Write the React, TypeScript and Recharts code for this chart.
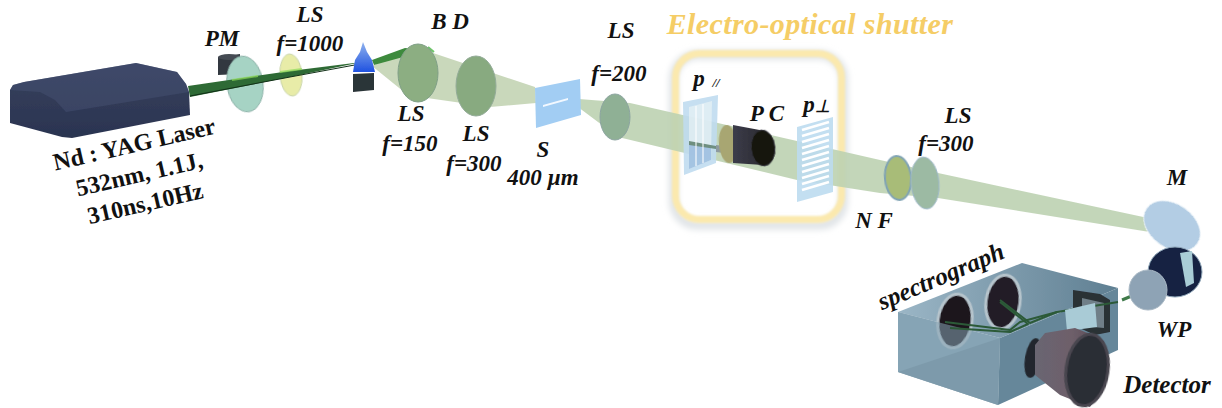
import { ScatterChart, Scatter, XAxis, YAxis } from "recharts";

type Pt = { x: number; y: number };
const pts = (...v: number[]): Pt[] => v.reduce<Pt[]>((a, n, i) => (i % 2 ? [...a, { x: v[i - 1], y: n }] : a), []);

// outlines in image pixels
const laserBody = pts(10, 90, 13, 85, 24, 82, 136, 63, 177, 72, 186, 84, 189, 92, 190, 115, 72, 138, 62, 137, 10, 123);
const laserTop = pts(10, 90, 13, 85, 24, 82, 136, 63, 177, 72, 186, 84, 189, 92, 66, 112, 55, 100, 40, 92);
const pmBody = pts(218, 57, 240, 54, 240, 74, 218, 75);
const flame = pts(363, 42, 367, 52, 372, 60, 375, 72, 353, 72, 355, 60, 360, 52);
const flameBase = pts(353, 74, 374, 73, 374, 90, 353, 92);
const laserBeam = pts(188, 86, 290, 71, 362, 62, 290, 77, 190, 97);
const laserBeamEdge = pts(190, 96, 290, 77, 360, 64);
const focusBeam = pts(372, 60, 405, 48, 414, 49, 414, 54, 374, 65);
const dumpEdge = pts(428, 47, 434, 52);
const expandBeam = pts(372, 66, 415, 48, 433, 53, 535, 87, 536, 103, 490, 107, 427, 98, 414, 100);
const slitPlate = pts(535, 88, 580, 79, 581, 115, 536, 128);
const slitGap = pts(543, 105, 568, 98, 568, 100, 543, 107);
const mainBeam = pts(566, 98, 630, 103, 880, 160, 938, 173, 1148, 218, 1156, 233, 938, 198, 880, 193, 797, 180, 618, 137);
const polFrameA = pts(683, 102, 718, 95, 716, 163, 684, 175);
const polInnerA = pts(689, 107, 712, 101, 711, 160, 689, 169);
const polLowerA = pts(689, 142, 711, 146, 711, 160, 689, 169);
const polCore = pts(689, 141, 716, 146, 716, 149, 689, 145);
const polFrameB = pts(797, 127, 833, 117, 833, 192, 797, 202);
const cellBody = pts(733, 125, 765, 131, 763, 165, 733, 163);
const cellStem = pts(716, 145, 724, 146, 724, 153, 716, 152);
const boxInside = pts(898, 312, 1022, 263, 1118, 288, 1000, 338);
const boxLeft = pts(898, 312, 1000, 338, 998, 405, 898, 372);
const boxLeftDark = pts(898, 372, 1000, 338, 998, 405);
const boxRight = pts(1000, 338, 1118, 288, 1118, 350, 998, 405);
const grating = pts(1073, 290, 1100, 294, 1110, 300, 1110, 332, 1095, 335, 1073, 325);
const gratingFace = pts(1082, 298, 1104, 303, 1104, 328, 1082, 326);
const prism = pts(1065, 310, 1095, 303, 1097, 327, 1067, 331);
const cameraBody = pts(1035, 345, 1045, 333, 1075, 328, 1100, 338, 1108, 375, 1090, 407, 1060, 395, 1035, 375);
const mirrorMount = pts(1156, 232, 1172, 240, 1188, 250, 1176, 254, 1160, 244);
const wpPlate = pts(1180, 253, 1192, 251, 1194, 283, 1186, 287);

const rayOut = pts(1122, 300, 1146, 290);
const rayPathA = pts(1118, 302, 1057, 312, 1030, 323, 1000, 300);
const rayPathB = pts(1057, 312, 1020, 322, 1010, 330, 945, 322);
const rayPathC = pts(1000, 302, 1028, 324, 1010, 332, 950, 328);

const stripesA = [pts(696, 106, 696, 166), pts(703, 104, 703, 163)];
const stripesB = [128, 134, 140, 146, 152, 158, 164, 170, 176, 182, 188].map((y) => pts(802, y + 2, 829, y - 6));

const shutterBox = { x: 758.5, y: 136.5 };
const shutterShadow = { x: 758.5, y: 140 };
const lensPM = { x: 245, y: 84 };
const lensF1000 = { x: 291, y: 75 };
const lensF150 = { x: 418, y: 73 };
const lensF300 = { x: 476, y: 86 };
const lensF200 = { x: 615, y: 117 };
const filterNF = { x: 898, y: 178 };
const lensOut = { x: 925, y: 183 };
const mirrorM = { x: 1172, y: 226 };
const wpDisc = { x: 1175, y: 272 };
const wpLens = { x: 1148, y: 290 };

const labelText = ["PM", "LS", "f=1000", "B D", "LS", "f=150", "LS", "f=300", "LS", "f=200", "S", "400 µm", "p", "P C", "p", "LS", "f=300", "N F", "M", "WP"];
const labelX = [222, 310, 310, 450, 411, 410, 476, 474, 621, 619, 543, 543, 699, 767, 809, 958, 946, 874, 1177, 1174];
const labelY = [46, 22, 51, 29, 121, 151, 141, 171, 38, 81, 157, 185, 86, 121, 112, 123, 151, 228, 185, 337];
const labelData = labelText.map((text, i) => ({ x: labelX[i], y: labelY[i], text }));

const laserText = ["Nd : YAG Laser", "532nm, 1.1J,", "310ns,10Hz"];
const laserX = [136, 141, 147];
const laserY = [152, 182, 211];
const laserData = laserText.map((text, i) => ({ x: laserX[i], y: laserY[i], text }));

const noDot = () => <g />;

function Poly({ data, fill = "none", stroke = "none", width = 1, opacity = 1, blur = false }: any) {
  const draw = (p: any) => (
    <path
      d={"M" + p.points.map((q: Pt) => `${q.x},${q.y}`).join("L") + (fill === "none" ? "" : "Z")}
      fill={fill}
      stroke={stroke}
      strokeWidth={width}
      strokeLinejoin="round"
      opacity={opacity}
      filter={blur ? "url(#soft)" : undefined}
    />
  );
  return <Scatter data={data} dataKey="y" line={draw} shape={noDot} isAnimationActive={false} />;
}

function Disc({ at, rx, ry, angle = 0, fill, stroke = "none", width = 1, opacity = 1 }: any) {
  const draw = (p: any) => (
    <ellipse
      cx={p.cx}
      cy={p.cy}
      rx={rx}
      ry={ry}
      transform={`rotate(${angle} ${p.cx} ${p.cy})`}
      fill={fill}
      stroke={stroke}
      strokeWidth={width}
      opacity={opacity}
      filter="url(#soft)"
    />
  );
  return <Scatter data={[at]} dataKey="y" shape={draw} isAnimationActive={false} />;
}

function Frame({ at, w, h, stroke, width, filter }: any) {
  const draw = (p: any) => (
    <rect
      x={p.cx - w / 2}
      y={p.cy - h / 2}
      width={w}
      height={h}
      rx={24}
      fill="none"
      stroke={stroke}
      strokeWidth={width}
      filter={filter}
    />
  );
  return <Scatter data={[at]} dataKey="y" shape={draw} isAnimationActive={false} />;
}

const labelFont = { fontFamily: "'Liberation Serif', serif", fontWeight: 700, fontStyle: "italic" };

function Words({ data, size, angle = 0, italic = true, color = "#111", spacing = 0 }: any) {
  const draw = (p: any) => (
    <text
      x={p.cx}
      y={p.cy}
      textAnchor="middle"
      fontSize={size}
      fill={color}
      letterSpacing={spacing}
      transform={angle ? `rotate(${angle} ${p.cx} ${p.cy})` : undefined}
      style={{ ...labelFont, fontStyle: italic ? "italic" : "normal" }}
    >
      {p.payload.text}
    </text>
  );
  return <Scatter data={data} dataKey="y" shape={draw} isAnimationActive={false} />;
}

export default function App() {
  return (
    <div style={{ position: "absolute", left: 0, top: 0, width: 1222, height: 408, background: "#fff" }}>
      <ScatterChart width={1222} height={408} margin={{ top: 0, right: 0, bottom: 0, left: 0 }}>
        <defs>
          <filter id="soft" x="-20%" y="-20%" width="140%" height="140%">
            <feGaussianBlur stdDeviation="0.5" />
          </filter>
          <filter id="glow" x="-10%" y="-10%" width="120%" height="120%">
            <feGaussianBlur stdDeviation="3" />
          </filter>
          <filter id="edge" x="-10%" y="-10%" width="120%" height="120%">
            <feGaussianBlur stdDeviation="1" />
          </filter>
          <linearGradient id="laserFill" x1="0" y1="0" x2="0" y2="1">
            <stop offset="0" stopColor="#36415f" />
            <stop offset="1" stopColor="#2b3450" />
          </linearGradient>
          <linearGradient id="cellFill" x1="0" y1="0" x2="1" y2="0">
            <stop offset="0" stopColor="#3c3c4a" />
            <stop offset="1" stopColor="#2a2a30" />
          </linearGradient>
          <linearGradient id="camFill" x1="0" y1="0" x2="1" y2="0">
            <stop offset="0" stopColor="#6a6672" />
            <stop offset="0.5" stopColor="#6e5f6a" />
            <stop offset="1" stopColor="#534650" />
          </linearGradient>
          <linearGradient id="boxFill" x1="0" y1="0" x2="1" y2="0">
            <stop offset="0" stopColor="#9bb6c6" />
            <stop offset="1" stopColor="#5f7f92" />
          </linearGradient>
          <linearGradient id="flameFill" x1="0" y1="0" x2="0" y2="1">
            <stop offset="0" stopColor="#8fb2ee" />
            <stop offset="1" stopColor="#1f52e0" />
          </linearGradient>
        </defs>
        <XAxis type="number" dataKey="x" domain={[0, 1222]} hide />
        <YAxis type="number" dataKey="y" domain={[0, 408]} reversed hide />

        <Frame at={shutterShadow} w={170} h={170} stroke="#dfe3e6" width={9} filter="url(#glow)" />
        <Frame at={shutterBox} w={166} h={166} stroke="#fbe9ae" width={7} filter="url(#edge)" />

        <Poly data={pmBody} fill="#33393f" blur />
        <Disc at={{ x: 229, y: 57 }} rx={11} ry={3} fill="#454c52" />
        <Disc at={lensPM} rx={18} ry={28} angle={-8} fill="#a6d3c4" stroke="#8ab0a6" />
        <Disc at={lensF1000} rx={11} ry={21} angle={-5} fill="#e8eca8" stroke="#c8d4a8" />
        <Poly data={laserBeam} fill="#2f6b34" blur />
        <Poly data={laserBeamEdge} stroke="#123018" width={1} />
        <Poly data={pts(232, 80, 258, 76)} stroke="#8fdc5a" width={2} opacity={0.7} />
        <Poly data={pts(280, 72, 302, 69)} stroke="#8fdc5a" width={2} opacity={0.7} />
        <Poly data={laserBody} fill="url(#laserFill)" blur />
        <Poly data={laserTop} fill="#465173" opacity={0.5} blur />

        <Poly data={expandBeam} fill="#c3d4b4" opacity={0.9} />
        <Poly data={focusBeam} fill="#3d8a3c" blur />
        <Poly data={dumpEdge} stroke="#6fc46a" width={2} />
        <Poly data={flame} fill="url(#flameFill)" blur />
        <Poly data={flameBase} fill="#2c3438" blur />
        <Disc at={lensF150} rx={20} ry={29} fill="#8cae82" stroke="#7f9f86" />
        <Disc at={lensF300} rx={20} ry={30} fill="#88aa80" stroke="#93ab98" />

        <Poly data={mainBeam} fill="#bcd1b1" opacity={0.9} />
        <Poly data={slitPlate} fill="#a2cdf3" blur />
        <Poly data={slitGap} fill="#f2f8ff" />
        <Disc at={lensF200} rx={15} ry={23} fill="#8fb095" stroke="#8ca4a0" />

        <Poly data={polFrameA} fill="#c0dcf0" opacity={0.9} blur />
        <Poly data={polInnerA} fill="#f3f8f5" opacity={0.55} />
        <Poly data={polLowerA} fill="#9dbfe0" opacity={0.9} />
        <Poly data={polCore} fill="#6f8f80" />
        {stripesA.map((s, i) => (
          <Poly key={i} data={s} stroke="#ffffff" width={1.5} opacity={0.7} />
        ))}
        <Poly data={cellStem} fill="#8d9aa0" />
        <Disc at={{ x: 728, y: 144 }} rx={9} ry={19} angle={-5} fill="#a8a672" />
        <Poly data={cellBody} fill="url(#cellFill)" blur />
        <Disc at={{ x: 763, y: 148 }} rx={12} ry={18} angle={-5} fill="#17170f" stroke="#33333c" />

        <Poly data={polFrameB} fill="#bddcf0" opacity={0.9} blur />
        {stripesB.map((s, i) => (
          <Poly key={i} data={s} stroke="#ffffff" width={2.5} />
        ))}

        <Disc at={filterNF} rx={13} ry={22} angle={-5} fill="#a8bc78" stroke="#7fa3b3" width={2} />
        <Disc at={lensOut} rx={14} ry={26} angle={-5} fill="#9cbaa3" stroke="#9db8c8" />

        <Poly data={mirrorMount} fill="#8d9aa3" blur />
        <Disc at={mirrorM} rx={31} ry={22} angle={35} fill="#b3cde4" stroke="#f0f6fa" />
        <Disc at={wpDisc} rx={27} ry={25} fill="#142442" stroke="#8fa5b8" />
        <Poly data={wpPlate} fill="#a9cdd6" blur />

        <Poly data={boxInside} fill="url(#boxFill)" blur />
        <Poly data={boxRight} fill="#66879a" blur />
        <Poly data={boxLeft} fill="#86a4b5" blur />
        <Poly data={boxLeftDark} fill="#587686" opacity={0.45} />
        <Disc at={{ x: 955, y: 321 }} rx={17} ry={27} angle={8} fill="#1e141e" stroke="#b6c4cc" width={3} />
        <Disc at={{ x: 1003, y: 302 }} rx={17} ry={27} angle={8} fill="#241a26" stroke="#b6c4cc" width={3} />
        <Poly data={pts(898, 312, 1000, 338, 998, 405, 898, 372)} fill="#86a4b5" opacity={0.55} />
        <Poly data={grating} fill="#2a3036" blur />
        <Poly data={gratingFace} fill="#6f7f88" blur />
        <Poly data={rayPathA} stroke="#2c5a38" width={2} />
        <Poly data={rayPathB} stroke="#2c5a38" width={2} />
        <Poly data={rayPathC} stroke="#2c5a38" width={2} />
        <Poly data={prism} fill="#a9cbd6" blur />
        <Poly data={rayOut} stroke="#3f7a4a" width={3} />
        <Disc at={wpLens} rx={19} ry={20} fill="#8ea3b5" stroke="#a9b8c4" />

        <Disc at={{ x: 1033, y: 358 }} rx={8} ry={20} angle={10} fill="#23282e" />
        <Poly data={cameraBody} fill="url(#camFill)" blur />
        <Disc at={{ x: 1087, y: 370 }} rx={21} ry={36} angle={8} fill="#2c2d36" stroke="#4a4650" width={3} />

        <Words data={labelData} size={23} />
        <Words data={[{ x: 716, y: 87, text: "//" }]} size={13} />
        <Words data={[{ x: 822, y: 112, text: "⊥" }]} size={17} />
        <Words data={[{ x: 810, y: 34, text: "Electro-optical  shutter" }]} size={30} color="#f5cd66" spacing={0.4} />
        <Words data={[{ x: 1167, y: 393, text: "Detector" }]} size={25} />
        <Words data={laserData} size={24} angle={-13} italic={false} />
        <Words data={[{ x: 944, y: 284, text: "spectrograph" }]} size={25} angle={-23} />
      </ScatterChart>
    </div>
  );
}
